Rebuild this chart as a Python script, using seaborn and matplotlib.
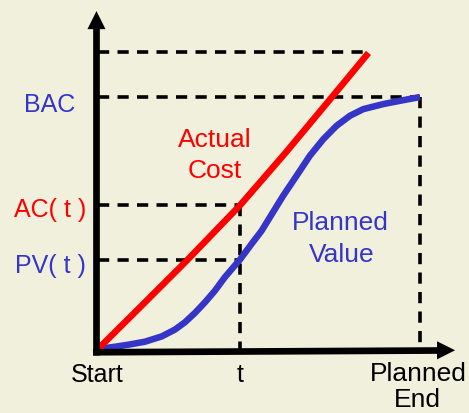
import numpy as np
import pandas as pd
import matplotlib
matplotlib.use("Agg")
import matplotlib.pyplot as plt
import seaborn as sns
from matplotlib.patches import FancyArrowPatch

# ---- data (time: 0 = Start, 100 = Planned End; cost: 100 = BAC) ----
pv_time = [0, 5.3, 9.4, 14.6, 19.8, 23.9, 27.0, 30.1, 33.2, 36.3, 39.4, 44.1,
           47.7, 50.8, 53.4, 57.5, 61.7, 65.8, 70.0, 74.1, 78.3, 82.4, 88.6, 93.8, 100]
pv_cost = [0, 0.9, 1.7, 2.9, 5.0, 7.7, 10.6, 14.3, 18.5, 23.1, 28.5, 35.5,
           41.7, 46.9, 52.3, 60.8, 68.8, 76.7, 83.3, 88.6, 92.6, 95.2, 97.2, 98.5, 100]
ac_time = [0, 13, 27.5, 44.1, 58, 72.6, 84]
ac_cost = [0, 16.5, 35.0, 57.0, 77.5, 99.9, 117.5]

t_now = 44.1
planned_end = 100
bac = 100
ac_t = 57.0
pv_t = 35.5
ac_top = 118

y_labels = ["BAC", "AC( t )", "PV( t )"]
x_labels = ["Start", "t", "Planned\nEnd"]

BG = "#f1f0dc"
RED = "#ff0000"
BLUE = "#3535c8"

sns.set_style("white")
plt.rcParams["font.family"] = ["Liberation Sans", "DejaVu Sans"]

fig = plt.figure(figsize=(4.69, 4.14), dpi=100, facecolor=BG)
ax = fig.add_axes([0, 0, 1, 1])

# dashed guide lines
dash_kw = dict(color="black", lw=2.6, dashes=[3.1, 2.3], zorder=2)
ax.plot([0, ac_time[-1]], [ac_top, ac_top], **dash_kw)
ax.plot([0, planned_end], [bac, bac], **dash_kw)
ax.plot([0, t_now], [ac_t, ac_t], **dash_kw)
ax.plot([0, t_now], [pv_t, pv_t], **dash_kw)
ax.plot([t_now, t_now], [ac_t, -1.0], **dash_kw)
ax.plot([planned_end, planned_end], [bac, -0.6], **dash_kw)

# curves
df_pv = pd.DataFrame({"time": pv_time, "cost": pv_cost})
df_ac = pd.DataFrame({"time": ac_time, "cost": ac_cost})
sns.lineplot(data=df_pv, x="time", y="cost", sort=False, estimator=None,
             color=BLUE, lw=4.7, ax=ax, zorder=3, solid_capstyle="butt",
             solid_joinstyle="round")
sns.lineplot(data=df_ac, x="time", y="cost", sort=False, estimator=None,
             color=RED, lw=4.7, ax=ax, zorder=4, solid_capstyle="butt",
             solid_joinstyle="round")
ax.set_xlim(-30.43, 115.22)
ax.set_ylim(-25.4, 138.9)
ax.set_axis_off()

# axes with arrows
ax.plot([-0.47, -0.47], [-2.4, 128], color="black", lw=4.8, zorder=5, solid_capstyle="butt")
ax.plot([-1.55, 106], [-1.3, -0.6], color="black", lw=4.8, zorder=5, solid_capstyle="butt")
head = "-|>,head_length=13,head_width=6.5"
ax.add_patch(FancyArrowPatch((-0.47, 120), (-0.47, 134.1), arrowstyle=head,
                             mutation_scale=1, lw=0, color="black", zorder=6,
                             shrinkA=0, shrinkB=0))
ax.add_patch(FancyArrowPatch((100, -0.55), (110.9, -0.5), arrowstyle=head,
                             mutation_scale=1, lw=0, color="black", zorder=6,
                             shrinkA=0, shrinkB=0))

# y-side labels
lx = -14.9
ax.text(lx, 94.4, y_labels[0], color=BLUE, fontsize=18, ha="center", va="baseline")
ax.text(lx, 52.8, y_labels[1], color=RED, fontsize=18, ha="center", va="baseline")
ax.text(lx, 30.6, y_labels[2], color=BLUE, fontsize=18, ha="center", va="baseline")

# curve labels
ax.text(36.3, 80.7, "Actual", color=RED, fontsize=19, ha="center", va="baseline")
ax.text(36.3, 68.3, "Cost", color=RED, fontsize=19, ha="center", va="baseline")
ax.text(75.2, 47.6, "Planned", color=BLUE, fontsize=19, ha="center", va="baseline")
ax.text(75.7, 35.0, "Value", color=BLUE, fontsize=19, ha="center", va="baseline")

# x-side labels
ax.text(-0.4, -12.6, x_labels[0], color="black", fontsize=18, ha="center", va="baseline")
ax.text(t_now, -12.6, x_labels[1], color="black", fontsize=18, ha="center", va="baseline")
pe1, pe2 = x_labels[2].split("\n")
ax.text(99.4, -12.4, pe1, color="black", fontsize=19, ha="center", va="baseline")
ax.text(99.3, -22.8, pe2, color="black", fontsize=19, ha="center", va="baseline")

fig.savefig("out.png", dpi=100, facecolor=BG)
